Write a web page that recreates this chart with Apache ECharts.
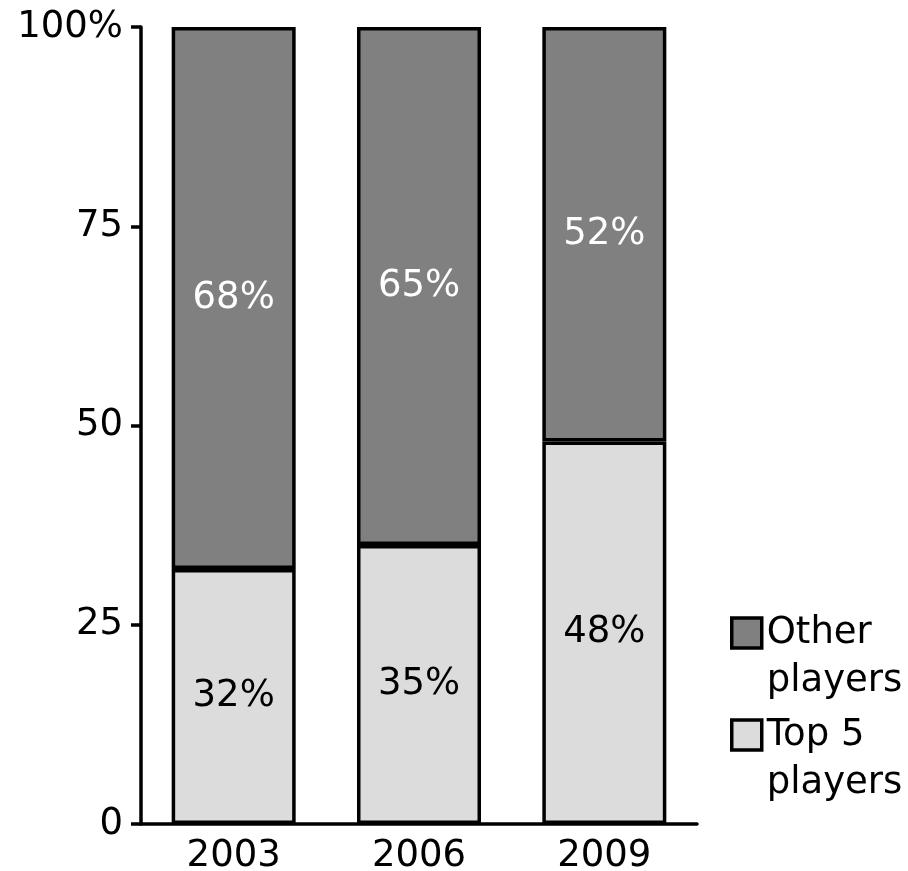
<!DOCTYPE html>
<html>
<head>
<meta charset="utf-8">
<script src="https://cdn.jsdelivr.net/npm/echarts@6/dist/echarts.min.js"></script>
<style>
  html, body { margin: 0; padding: 0; background: #ffffff; }
  #chart { width: 908px; height: 871px; }
</style>
</head>
<body>
<div id="chart"></div>
<script>
// Market share of the top 5 players versus all other players
const years = ['2003', '2006', '2009'];
const top5Share = [32, 35, 48];
const otherShare = [68, 65, 52];
const yTicks = [0, 25, 50, 75, 100];
const seriesNames = ['Top 5 players', 'Other players'];

const FONT = 'DejaVu Sans, Verdana, sans-serif';
const FS = 37;

const chart = echarts.init(document.getElementById('chart'), null, { renderer: 'canvas' });

// One legend block per series; the leading blank line keeps the
// swatch level with the first line of the two-line name.
function legendBlock(name, topPx) {
  return {
    data: [name],
    left: 730,
    top: topPx,
    padding: 0,
    orient: 'vertical',
    itemWidth: 30,
    itemHeight: 30,
    icon: 'rect',
    selectedMode: false,
    itemStyle: { borderColor: '#000000', borderWidth: 3.5 },
    formatter: n => ' \n' + n.replace(' players', '\nplayers'),
    textStyle: {
      fontFamily: FONT,
      fontSize: FS,
      color: '#000000',
      lineHeight: 48
    }
  };
}

chart.setOption({
  backgroundColor: '#ffffff',
  animation: false,
  textStyle: { fontFamily: FONT },
  grid: { left: 141, right: 211, top: 27, bottom: 47, outerBoundsMode: 'none', containLabel: false },
  legend: [
    legendBlock(seriesNames[1], 561),
    legendBlock(seriesNames[0], 663)
  ],
  xAxis: {
    type: 'category',
    data: years,
    axisLine: { lineStyle: { color: '#000000', width: 3.5 } },
    axisTick: { show: false },
    axisLabel: { color: '#000000', fontFamily: FONT, fontSize: FS, margin: 14 }
  },
  yAxis: {
    type: 'value',
    min: yTicks[0],
    max: yTicks[yTicks.length - 1],
    interval: 25,
    splitLine: { show: false },
    axisLine: { show: true, lineStyle: { color: '#000000', width: 3.5 } },
    axisTick: { show: true, length: 10, lineStyle: { color: '#000000', width: 3.5 } },
    axisLabel: {
      color: '#000000',
      fontFamily: FONT,
      fontSize: FS,
      margin: 18,
      formatter: v => (v === 100 ? v + '%' : String(v))
    }
  },
  series: [
    {
      name: seriesNames[0],
      type: 'bar',
      stack: 'share',
      barWidth: 124,
      data: top5Share,
      itemStyle: { color: '#dcdcdc', borderColor: '#000000', borderWidth: 3.5 },
      label: {
        show: true,
        position: 'inside',
        color: '#000000',
        fontFamily: FONT,
        fontSize: FS,
        formatter: p => p.value + '%'
      }
    },
    {
      name: seriesNames[1],
      type: 'bar',
      stack: 'share',
      barWidth: 124,
      data: otherShare,
      itemStyle: { color: '#808080', borderColor: '#000000', borderWidth: 3.5 },
      label: {
        show: true,
        position: 'inside',
        color: '#ffffff',
        fontFamily: FONT,
        fontSize: FS,
        formatter: p => p.value + '%'
      }
    }
  ]
});
</script>
</body>
</html>
